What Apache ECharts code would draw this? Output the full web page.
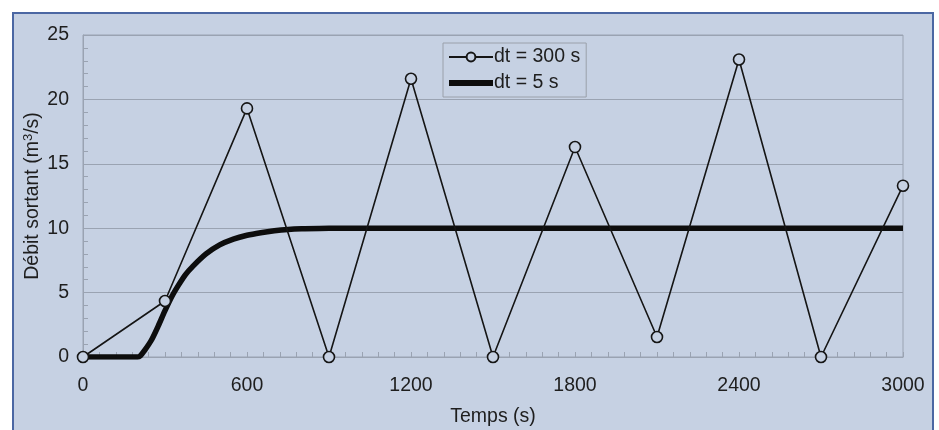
<!DOCTYPE html>
<html>
<head>
<meta charset="utf-8">
<script src="https://cdn.jsdelivr.net/npm/echarts@6/dist/echarts.min.js"></script>
<style>
html,body{margin:0;padding:0;background:#fff;}
#c{width:939px;height:430px;}
</style>
</head>
<body>
<div id="c"></div>
<script>
// Data
const t300 = [0, 300, 600, 900, 1200, 1500, 1800, 2100, 2400, 2700, 3000];
const q300 = [0, 4.35, 19.3, 0, 21.6, 0, 16.3, 1.55, 23.1, 0, 13.3];
const t5 = [0, 200, 210, 225, 250, 275, 300, 325, 350, 375, 400, 450, 500, 550, 600, 650, 700, 750, 800, 900, 1200, 1800, 2400, 3000];
const q5 = [0, 0, 0.1, 0.5, 1.3, 2.4, 3.6, 4.7, 5.6, 6.4, 7.0, 8.0, 8.7, 9.15, 9.45, 9.65, 9.8, 9.9, 9.95, 10, 10, 10, 10, 10];
const seriesNames = ['dt = 300 s', 'dt = 5 s'];
const xTicks = {min: 0, max: 3000, interval: 600};
const yTicks = {min: 0, max: 25, interval: 5};

const bg = '#c6d1e3';
const txt = '#1e1e1e';
const gridGray = '#9aa3b2';
const font = 'Liberation Sans, Arial, sans-serif';
const fs = 19.5;

const chart = echarts.init(document.getElementById('c'), null, {renderer: 'canvas'});
chart.setOption({
  backgroundColor: '#ffffff',
  animation: false,
  graphic: [{
    type: 'rect', z: -10, silent: true,
    shape: {x: 13, y: 13, width: 920, height: 440},
    style: {fill: bg, stroke: '#4b67a3', lineWidth: 2}
  }],
  textStyle: {fontFamily: font, color: txt},
  grid: {left: 83, right: 36, top: 35, bottom: 73, containLabel: false, outerBoundsMode: 'none',
    show: true, borderColor: gridGray, borderWidth: 1, backgroundColor: 'transparent'},
  legend: {
    orient: 'vertical', left: 443, top: 43,
    data: [
      {name: seriesNames[0]},
      {name: seriesNames[1], icon: 'path://M0,0H44V6H0Z', itemStyle: {color: '#0d0d0d', borderWidth: 0}}
    ],
    itemWidth: 44, itemHeight: 11, itemGap: 6,
    padding: [4, 6, 4, 5],
    backgroundColor: bg, borderColor: '#9aa0aa', borderWidth: 1,
    textStyle: {fontSize: fs, color: txt, fontFamily: font, padding: [0, 0, 0, -4]}
  },
  xAxis: {
    type: 'value', min: xTicks.min, max: xTicks.max, interval: xTicks.interval,
    name: 'Temps (s)', nameLocation: 'middle', nameGap: 50, nameMoveOverlap: false,
    nameTextStyle: {fontSize: fs, color: txt, fontFamily: font},
    axisLine: {show: true, lineStyle: {color: gridGray, width: 1}},
    axisTick: {show: true, inside: true, length: 5, lineStyle: {color: gridGray}},
    minorTick: {show: true, splitNumber: 10, length: 5, lineStyle: {color: gridGray}},
    axisLabel: {fontSize: fs, color: txt, margin: 19, fontFamily: font, formatter: v => String(v)},
    splitLine: {show: false}
  },
  yAxis: {
    type: 'value', min: yTicks.min, max: yTicks.max, interval: yTicks.interval,
    name: 'Débit sortant (m{sup|3}/s)', nameLocation: 'middle', nameGap: 40, nameRotate: 90, nameMoveOverlap: false,
    nameTextStyle: {fontSize: fs, color: txt, fontFamily: font,
      rich: {sup: {fontSize: 13, verticalAlign: 'top', color: txt, fontFamily: font, padding: [0, 0, 8, 0]}}},
    axisLine: {show: true, lineStyle: {color: gridGray, width: 1}},
    axisTick: {show: true, inside: true, length: 5, lineStyle: {color: gridGray}},
    minorTick: {show: true, splitNumber: 5, length: 5, lineStyle: {color: gridGray}},
    axisLabel: {fontSize: fs, color: txt, margin: 14, fontFamily: font, formatter: v => String(v)},
    splitLine: {show: true, lineStyle: {color: gridGray, width: 1}}
  },
  series: [
    {
      name: seriesNames[0], type: 'line',
      data: t300.map((t, i) => [t, q300[i]]),
      symbol: 'circle', symbolSize: 11, showSymbol: true,
      lineStyle: {color: '#151515', width: 1.6},
      itemStyle: {color: bg, borderColor: '#151515', borderWidth: 1.6},
      z: 3
    },
    {
      name: seriesNames[1], type: 'line',
      data: t5.map((t, i) => [t, q5[i]]),
      smooth: 0.3, symbol: 'none', showSymbol: false,
      lineStyle: {color: '#0d0d0d', width: 5.5},
      itemStyle: {color: '#0d0d0d'},
      z: 2
    }
  ]
});
</script>
</body>
</html>
